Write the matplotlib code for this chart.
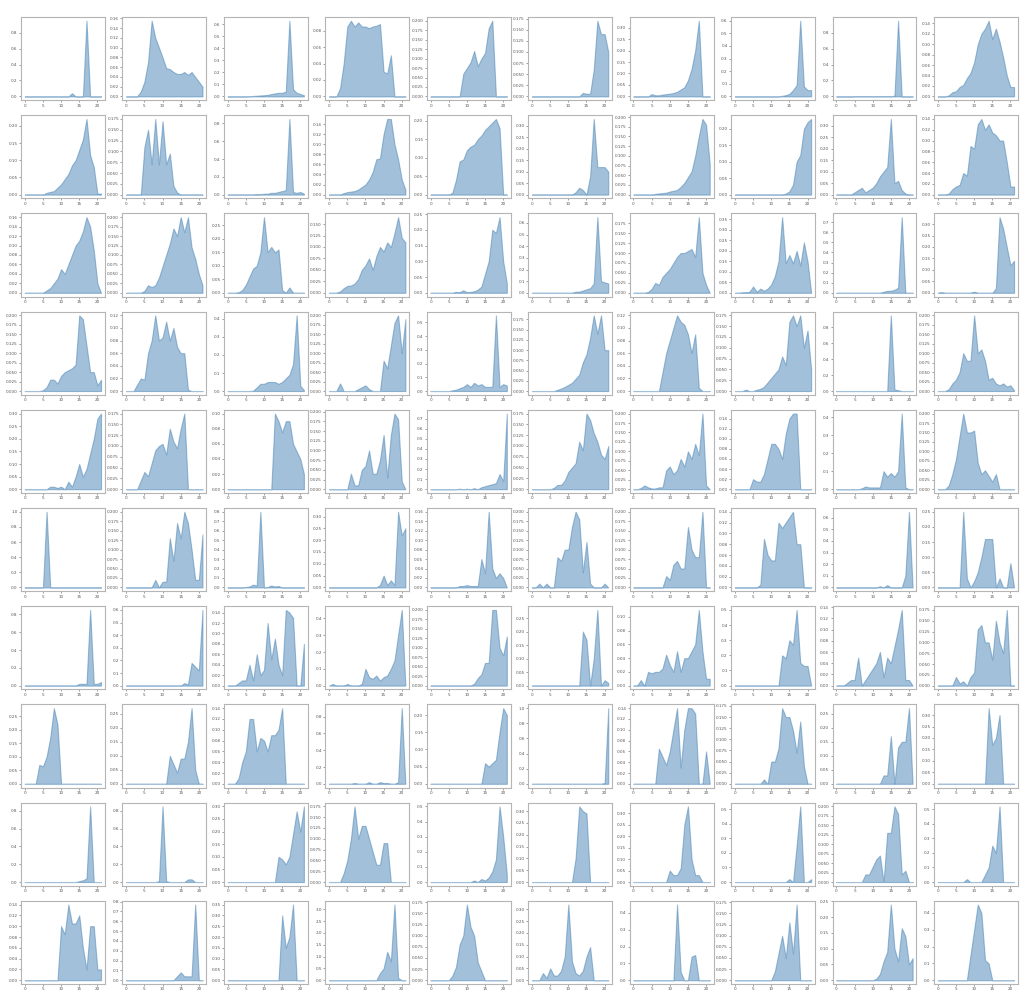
import numpy as np
import matplotlib
matplotlib.use('Agg')
import matplotlib.pyplot as plt

# x positions shared by every panel
x = np.arange(22)

# one list per panel, grouped by grid row
row0 = [
    [0,0,0,0,0,0,0,0,0,0,0,0,0,.04,0,0,0,.95,0,0,0,0],
    [0,0,0,0,.01,.03,.07,.155,.12,.1,.08,.058,.056,.05,.046,.046,.05,.044,.05,.04,.03,.02],
    [0,0,0,0,0,0,.002,.004,.006,.008,.01,.013,.02,.025,.03,.03,.04,.63,.06,.03,.02,.01],
    [0,0,0,.01,.04,.085,.092,.085,.09,.085,.085,.083,.085,.086,.088,.03,.028,.05,0,0,0,0],
    [0,0,0,0,0,0,0,0,0,.06,.075,.09,.12,.08,.1,.115,.18,.2,0,0,0,0],
    [0,0,0,0,0,0,0,0,0,0,0,0,0,0,.008,.006,.006,.06,.17,.14,.14,.1],
    [0,0,0,0,0,.01,.005,.005,.008,.01,.012,.015,.02,.03,.04,.07,.12,.2,.33,0,0,0],
    [0,0,0,0,0,0,0,0,0,0,0,0,0,.005,.01,.02,.05,.09,.6,.08,.05,.05],
    [0,0,0,0,0,.003,.003,.003,.003,.003,.003,.003,.003,.003,.003,.003,.01,.95,0,0,0,0],
    [0,0,0,.002,.008,.01,.018,.022,.035,.045,.065,.1,.12,.13,.145,.11,.13,.105,.075,.04,.018,.018],
]
row1 = [
    [0,0,0,0,0,0,.005,.008,.01,.02,.03,.045,.06,.085,.1,.13,.16,.22,.115,.08,.003,.003],
    [0,0,0,0,0,.11,.15,.07,.175,.07,.17,.07,.095,.02,.005,0,0,0,0,0,0,0],
    [0,0,0,0,0,0,0,0,.005,.005,.01,.01,.02,.02,.03,.04,.05,.85,.03,.02,.03,.01],
    [0,0,0,0,.003,.005,.006,.007,.01,.015,.02,.03,.045,.07,.072,.12,.15,.15,.1,.07,.03,.01],
    [0,0,0,0,0,0,.005,.04,.09,.095,.12,.13,.135,.15,.16,.175,.185,.195,.205,.18,0,0],
    [0,0,0,0,0,0,0,0,0,0,0,0,.01,.03,.02,0,.08,.33,.12,.12,.12,.1],
    [0,0,0,0,0,0,.002,.003,.004,.005,.008,.01,.012,.02,.03,.045,.06,.1,.15,.195,.18,.08],
    [0,0,0,0,0,0,0,0,0,0,0,0,0,0,.003,.01,.03,.1,.12,.2,.22,.23],
    [0,0,0,0,0,.01,.02,.03,.01,.02,.03,.05,.08,.1,.12,.33,.05,.06,.02,.005,0,0],
    [0,0,0,.002,.01,.015,.018,.04,.035,.09,.085,.13,.14,.12,.13,.115,.11,.1,.1,.06,.015,.015],
]
row2 = [
    [0,0,0,0,0,0,.005,.01,.02,.03,.05,.04,.06,.08,.1,.11,.13,.16,.14,.09,.02,0],
    [0,0,0,0,0,.005,.02,.015,.02,.04,.07,.1,.13,.17,.15,.2,.16,.2,.12,.09,.05,.02],
    [0,0,0,.002,.01,.03,.06,.09,.1,.15,.28,.15,.17,.15,.16,.01,0,.02,0,0,0,0],
    [0,0,0,.003,.01,.015,.016,.02,.03,.05,.06,.075,.05,.08,.1,.09,.11,.1,.13,.165,.12,.11],
    [0,0,0,0,0,0,0,.003,.002,.008,.002,.003,.005,.01,.02,.06,.1,.2,.19,.24,.1,.03],
    [0,0,0,0,0,0,0,0,0,0,0,0,.01,.01,.02,.03,.04,.08,.65,.1,.09,.08],
    [0,0,0,0,.002,.01,.025,.02,.04,.05,.06,.075,.09,.1,.1,.105,.11,.09,.19,.05,.02,0],
    [0,0,.002,.003,.005,.03,.005,.02,.01,.02,.04,.08,.15,.36,.14,.18,.14,.2,.13,.24,.15,0],
    [0,0,0,0,0,0,0,0,0,0,0,0,0,.01,.02,.02,.03,.05,.75,0,0,0],
    [0,.003,0,0,0,0,0,0,0,0,.005,0,0,0,0,0,.02,.33,.28,.2,.12,.14],
]
row3 = [
    [0,0,0,0,0,.002,.01,.03,.03,.02,.04,.05,.055,.06,.07,.2,.19,.12,.05,.05,.015,.03],
    [0,0,0,.01,.02,.018,.06,.08,.12,.08,.085,.11,.08,.1,.07,.06,.06,.002,0,0,0,0],
    [0,0,0,0,0,0,0,.002,.02,.04,.04,.05,.05,.05,.04,.05,.07,.09,.15,.42,.03,.005],
    [0,0,0,.02,0,0,0,0,.005,.01,.015,.005,0,0,0,.08,.06,.12,.18,.2,.1,.19],
    [0,0,0,0,0,0,.005,.01,.02,.03,.05,.03,.06,.04,.05,.03,.03,.03,.55,.03,.05,.04],
    [0,0,0,0,0,0,0,.003,.006,.01,.015,.02,.03,.04,.07,.09,.13,.185,.14,.185,.1,.1],
    [0,0,0,0,0,0,0,0,.03,.06,.08,.1,.12,.11,.105,.09,.06,.09,.005,0,0,0],
    [0,0,0,.003,0,0,.003,.005,.01,.02,.03,.04,.05,.08,.06,.16,.175,.15,.175,.1,.14,.05],
    [0,0,0,0,0,0,0,0,0,0,0,0,0,0,0,.95,.02,.01,0,0,0,0],
    [0,0,0,.005,.02,.03,.05,.1,.08,.08,.2,.1,.11,.08,.03,.035,.02,.015,.02,.012,.015,.002],
]
row4 = [
    [0,0,0,0,0,0,0,.01,.01,.005,.01,0,.03,.01,.05,.1,.05,.08,.14,.2,.28,.3],
    [0,0,0,0,.02,.04,.03,.06,.09,.1,.105,.08,.14,.11,.095,.14,.175,0,0,0,0,0],
    [0,0,0,0,0,0,0,0,0,0,0,0,0,.1,.09,.075,.09,.09,.06,.05,.04,.02],
    [0,0,0,0,0,0,.04,.01,.01,.05,.06,.1,.04,.04,.075,.14,.03,.14,.195,.18,.02,0],
    [0,0,0,0,0,0,0,0,.005,0,.005,0,.01,0,.02,.03,.04,.05,.06,.15,.08,.75],
    [0,0,0,0,0,0,.003,.01,.01,.02,.04,.05,.06,.11,.09,.175,.16,.13,.11,.08,.07,.1],
    [0,0,.003,.01,.005,.002,.002,.005,.005,.05,.06,.04,.05,.08,.06,.1,.08,.12,.09,.2,.01,0],
    [0,0,0,0,0,.02,.015,.015,.03,.06,.09,.09,.08,.06,.11,.14,.15,.15,0,0,0,0],
    [0,0,0,0,0,0,0,.005,.015,.01,.01,.01,.01,.1,.07,.09,.07,.1,.42,.01,0,0],
    [0,0,0,.01,.04,.08,.14,.2,.15,.15,.155,.07,.04,.05,.035,.02,.04,0,0,0,0,0],
]
row5 = [
    [0,0,0,0,0,0,1.0,0,0,0,0,0,0,0,0,0,0,0,0,0,0,0],
    [0,0,0,0,0,0,0,0,.02,0,.015,.015,.13,.07,.17,.13,.2,.17,.1,.02,.02,.14],
    [0,0,0,0,0,.005,.01,.03,.02,.8,0,.005,.02,.01,.015,0,0,0,0,0,0,0],
    [0,0,0,0,0,0,0,0,0,0,0,0,0,0,.01,.05,.01,.03,.01,.32,.22,.25],
    [0,0,0,0,0,0,0,0,.003,.003,.005,.003,.003,.003,.06,.03,.16,.04,.02,.03,.02,0],
    [0,0,.01,0,.01,0,0,.08,.07,.1,.1,.16,.2,.18,.04,.12,.01,0,0,0,.01,0],
    [0,0,0,0,0,0,0,0,0,.03,.02,.06,.07,.05,.05,.16,.1,.08,.08,.2,0,0],
    [0,0,0,0,0,0,0,.005,.09,.06,.05,.05,.12,.11,.12,.13,.14,.08,.08,0,0,0],
    [0,0,0,0,0,0,0,0,0,0,0,0,.01,0,.02,0,0,0,0,.1,.65,0],
    [0,0,0,0,0,0,0,.25,.03,0,.02,.05,.1,.16,.16,.16,0,.03,0,0,.08,0],
]
row6 = [
    [0,0,0,0,0,0,0,0,0,0,0,0,0,0,0,.02,.02,.02,.85,.02,.02,.04],
    [0,0,0,0,0,0,0,0,0,0,0,0,0,0,0,0,.02,.01,.18,.15,.12,.6],
    [0,0,0,.005,.01,.01,.04,.01,.06,.02,.03,.12,.05,.09,.04,.02,.145,.14,.13,0,0,.08],
    [0,.01,0,0,0,.01,0,0,0,.01,.1,.05,.04,.06,.03,.05,.06,.1,.15,.3,.45,0],
    [0,0,0,0,0,0,0,0,0,0,0,0,.005,.02,.03,.06,.06,.2,.2,.1,.08,.13],
    [0,0,0,0,0,0,0,0,0,0,0,0,0,0,.2,.17,0,.1,.28,0,.02,.01],
    [0,0,.008,0,.02,.018,.02,.02,.025,.045,.03,.02,.05,.02,.04,.04,.05,.06,.11,.05,.01,.01],
    [0,0,0,0,0,0,0,0,0,0,0,0,0,.2,.18,.3,.27,.5,.15,.13,.13,0],
    [0,0,0,.005,.01,.01,.05,0,.01,.02,.03,.04,.06,.015,.05,.04,.07,.1,.135,.01,.01,0],
    [0,0,0,0,0,.02,.005,.01,0,.02,.03,.13,.14,.1,.1,.06,.15,.1,.075,.175,0,0],
]
row7 = [
    [0,0,0,0,.07,.065,.1,.17,.28,.22,0,0,0,0,0,0,0,0,0,0,0,0],
    [0,0,0,0,0,0,0,0,0,0,0,0,.1,.07,.04,.09,.09,.15,.27,.05,0,0],
    [0,0,0,.01,.04,.06,.12,.12,.06,.085,.08,.06,.09,.09,.1,.14,0,0,0,0,0,0],
    [0,0,0,0,0,0,0,.01,0,0,0,.02,0,0,.02,.01,.01,0,0,.02,.9,0],
    [0,0,0,0,0,0,0,0,0,0,0,0,0,0,0,.06,.05,.06,.07,.15,.22,.2],
    [0,0,0,0,0,0,0,0,0,0,0,0,0,0,0,0,0,0,0,0,.01,1.0],
    [0,0,0,0,0,0,0,.065,.05,.035,.06,.1,.14,.03,.1,.14,.14,.13,0,0,.06,0],
    [0,0,0,0,0,0,0,0,.01,0,.05,.05,.08,.17,.15,.15,.12,.07,.14,.04,0,0],
    [0,0,0,0,0,0,0,0,0,0,0,0,0,.03,.03,.17,0,.13,.15,.15,.27,0],
    [0,0,0,0,0,0,0,0,0,0,0,0,0,0,.33,.17,.2,.3,0,0,0,0],
]
row8 = [
    [0,0,0,0,0,0,0,0,0,0,0,0,0,0,0,.01,.02,.04,.85,0,0,0],
    [0,0,0,0,0,0,0,0,0,.01,.85,.01,0,0,0,0,0,.03,.03,0,0,0],
    [0,0,0,0,0,0,0,0,0,0,0,0,0,0,.1,.09,.07,.1,.19,.28,.2,.3],
    [0,0,0,0,.02,.05,.1,.175,.1,.13,.13,.1,.07,.04,.04,.09,.09,0,0,0,0,0],
    [0,0,0,0,0,0,0,0,0,0,0,0,.01,0,.02,.01,.03,.07,.15,.5,.3,.05],
    [0,0,0,0,0,0,0,0,0,0,0,0,.1,.32,.3,.29,0,0,0,0,0,0],
    [0,0,0,0,0,0,0,0,0,0,.05,.03,.03,.06,.25,.33,.1,.03,.03,0,0,0],
    [0,0,0,0,0,0,0,0,0,0,0,0,0,0,0,.02,0,.25,.52,0,0,.02],
    [0,0,0,0,0,0,0,0,.02,.02,.04,.06,.07,0,.13,.13,.2,.18,.02,.03,0,0],
    [0,0,0,0,0,0,0,0,.02,0,0,0,0,.05,.1,.25,.2,.52,0,0,0,0],
]
row9 = [
    [0,0,0,0,0,0,0,0,0,0,.1,.085,.14,.105,.105,.12,.06,.02,.1,.1,.02,.02],
    [0,0,0,0,0,0,0,0,0,0,0,0,0,0,.04,.08,.04,.04,.04,.77,0,0],
    [0,0,0,0,0,0,0,0,0,0,0,0,0,0,0,.3,.15,.2,.35,0,0,0],
    [0,0,0,0,0,0,0,0,0,0,0,0,0,0,.3,.5,1.2,.8,3.2,.1,0,0],
    [0,0,0,0,0,0,.01,.03,.08,.1,.17,.12,.1,.04,.02,0,0,0,0,0,0,0],
    [0,0,0,.03,.01,.05,.02,.02,.04,.1,.32,.08,.03,.02,.04,.1,.14,0,0,0,0,0],
    [0,0,0,0,0,0,0,0,0,0,0,0,.45,.05,0,0,.14,.15,0,0,0,0],
    [0,0,0,0,0,0,0,0,0,0,0,.02,.06,.1,.05,.13,.06,.17,0,0,0,0],
    [0,0,0,0,0,0,0,0,0,0,0,.005,.02,.06,.09,.24,.1,.06,.165,.14,.05,.07],
    [0,0,0,0,0,0,0,0,0,.15,.3,.45,.4,.12,.1,0,0,0,0,0,0,0],
]
rows = [row0, row1, row2, row3, row4, row5, row6, row7, row8, row9]

fig, axes = plt.subplots(10, 10, figsize=(10.24, 9.99), dpi=100)
fig.subplots_adjust(left=0.0205, right=0.994, bottom=0.015, top=0.983,
                    wspace=0.21, hspace=0.18)

for i, row in enumerate(rows):
    for j, y in enumerate(row):
        ax = axes[i, j]
        ax.fill_between(x, y, color='steelblue', alpha=0.5, linewidth=0.8)
        ax.set_xticks([0, 5, 10, 15, 20])
        ax.tick_params(labelsize=3, length=1.5, width=0.4, pad=1, colors='#555555')
        for sp in ax.spines.values():
            sp.set_color('#b5b5b5')
            sp.set_linewidth(0.8)

plt.savefig('out.png', dpi=100)
